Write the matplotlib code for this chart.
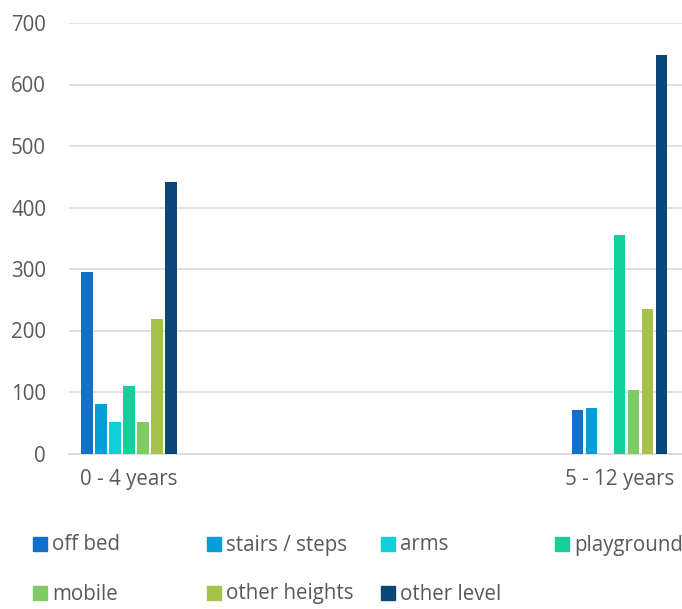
import matplotlib
matplotlib.use("Agg")
import matplotlib.pyplot as plt
from matplotlib.patches import Rectangle
import numpy as np

plt.rcParams['font.family'] = ['Open Sans', 'DejaVu Sans']

categories = ["0 - 4 years", "5 - 12 years"]
series_names = ["off bed", "stairs / steps", "arms", "playground",
                "mobile", "other heights", "other level"]
off_bed = [295, 71]
stairs_steps = [81, 74]
arms = [52, 0]
playground = [109, 355]
mobile = [52, 103]
other_heights = [218, 235]
other_level = [441, 648]
series_values = [off_bed, stairs_steps, arms, playground, mobile, other_heights, other_level]
colors = ["#1170C8", "#049FD9", "#0FD0D8", "#13CF9B", "#7ECB63", "#A7C24A", "#0B4679"]
yticks = [0, 100, 200, 300, 400, 500, 600, 700]

W, H = 682, 609
fig = plt.figure(figsize=(W / 100, H / 100), dpi=100)
ax = fig.add_axes([69 / W, (H - 453.5) / H, (682 - 69) / W, (453.5 - 23) / H])

x = np.arange(len(categories))
step = 14 / 490.5
bw = 11.8 / 490.5
n = len(series_names)
for i, (name, vals, c) in enumerate(zip(series_names, series_values, colors)):
    ax.bar(x + (i - (n - 1) / 2) * step, vals, width=bw, color=c, zorder=3, label=name)

ax.set_xlim(-60 / 490.5, (682 - 129) / 490.5)
ax.set_ylim(0, 700)
ax.set_yticks(yticks)
ax.set_yticklabels([str(t) for t in yticks])
ax.set_xticks(x)
ax.set_xticklabels(categories)
ax.grid(axis='y', color='#D9D9D9', linewidth=1.2, zorder=0)
for s in ['top', 'right', 'left']:
    ax.spines[s].set_visible(False)
ax.spines['bottom'].set_color('#D9D9D9')
ax.spines['bottom'].set_linewidth(1.2)
ax.tick_params(axis='both', length=0, labelsize=14.8, colors='#595959')
ax.tick_params(axis='y', pad=16.5)
ax.tick_params(axis='x', pad=11)

# legend (4 columns, 2 rows)
col_x = [33, 207, 381, 555]
row_y = [544, 593]
for i, (name, c) in enumerate(zip(series_names, colors)):
    cx = col_x[i % 4]
    cy = row_y[i // 4]
    fig.patches.append(Rectangle((cx / W, (H - cy - 7) / H), 14 / W, 14 / H,
                                 transform=fig.transFigure, color=c))
    fig.text((cx + 19) / W, (H - cy - 1) / H, name, fontsize=14.8, color='#595959',
             va='center', ha='left')

fig.savefig("out.png", dpi=100)
